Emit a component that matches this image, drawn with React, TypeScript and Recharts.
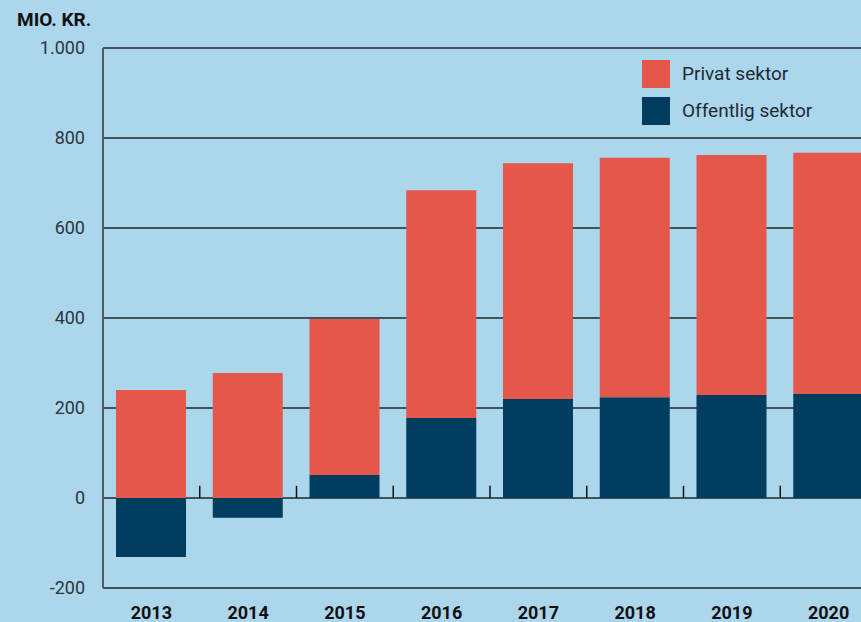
import { BarChart, Bar, XAxis, YAxis, CartesianGrid, ReferenceLine } from "recharts";

const years = ["2013", "2014", "2015", "2016", "2017", "2018", "2019", "2020"];
const offentlig = [-131, -44, 51, 178, 220, 224, 229, 231];
const privat = [240, 278, 347, 506, 524, 532, 533, 536];
const yTicks = [-200, 0, 200, 400, 600, 800, 1000];

const data = years.map((year, i) => ({
  year,
  offentlig: offentlig[i],
  privat: privat[i]
}));

const BG = "#acd6ec";
const RED = "#e5574a";
const NAVY = "#003d5e";
const FONT = "Roboto, 'Noto Sans', sans-serif";

const fmt = (v: number) => String(v).replace(/\B(?=(\d{3})+(?!\d))/g, ".");

function LegendBox() {
  const items = [
    { label: "Privat sektor", color: RED },
    { label: "Offentlig sektor", color: NAVY }
  ];
  return (
    <div style={{ position: "absolute", left: 642, top: 55, fontFamily: FONT }}>
      {items.map((it) => (
        <div key={it.label} style={{ display: "flex", alignItems: "center", height: 37 }}>
          <div style={{ width: 28, height: 28, background: it.color, marginRight: 12 }} />
          <span style={{ fontSize: 19, color: "#1e2a33" }}>{it.label}</span>
        </div>
      ))}
    </div>
  );
}

export default function App() {
  return (
    <div
      style={{
        position: "absolute",
        left: 0,
        top: 0,
        width: 861,
        height: 622,
        overflow: "hidden",
        background: BG,
        fontFamily: FONT
      }}
    >
      <div
        style={{
          position: "absolute",
          left: 17,
          top: 8,
          fontSize: 19,
          fontWeight: 700,
          color: "#111"
        }}
      >
        MIO. KR.
      </div>
      <BarChart
        width={880}
        height={640}
        data={data}
        stackOffset="sign"
        margin={{ top: 48, right: 3, left: 0, bottom: 0 }}
        barSize={70}
      >
        <CartesianGrid vertical={false} stroke="#1d262c" strokeWidth={1.5} />
        <XAxis
          dataKey="year"
          axisLine={false}
          tickLine={false}
          height={52}
          interval={0}
          tick={{ fontSize: 18, fontWeight: 700, fill: "#111", fontFamily: FONT }}
          tickMargin={12}
        />
        <YAxis
          domain={[-200, 1000]}
          ticks={yTicks}
          width={103}
          tickFormatter={fmt}
          tickLine={false}
          axisLine={{ stroke: "#4f5d66", strokeWidth: 2 }}
          tickMargin={12}
          tick={{ fontSize: 18, fill: "#2b353b", fontFamily: FONT }}
        />
        <Bar dataKey="offentlig" stackId="a" fill={NAVY} isAnimationActive={false} />
        <Bar dataKey="privat" stackId="a" fill={RED} isAnimationActive={false} />
        {years.slice(1).map((y) => (
          <ReferenceLine
            key={y}
            position="start"
            segment={[
              { x: y, y: 0 },
              { x: y, y: 27 }
            ]}
            stroke="#111"
            strokeWidth={1.5}
          />
        ))}
      </BarChart>
      <LegendBox />
    </div>
  );
}
